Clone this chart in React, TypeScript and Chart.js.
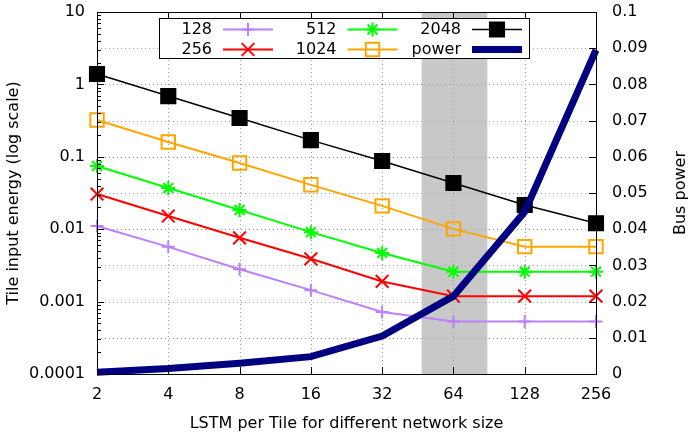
import React, { useEffect, useRef } from 'react';
import { Chart, registerables } from 'chart.js';

Chart.register(...registerables);

// LSTM per tile (x categories, powers of two)
const lstmPerTile = ['2', '4', '8', '16', '32', '64', '128', '256'];

// Tile input energy per network size (left, log axis)
const energy128 = [0.0111, 0.0057, 0.0028, 0.00144, 0.00072, 0.00053, 0.00053, 0.00053];
const energy256 = [0.0306, 0.0152, 0.0076, 0.0039, 0.0019, 0.00119, 0.00119, 0.00119];
const energy512 = [0.0747, 0.037, 0.0184, 0.0091, 0.0047, 0.00259, 0.00259, 0.00259];
const energy1024 = [0.322, 0.16, 0.082, 0.041, 0.021, 0.0101, 0.00574, 0.00574];
const energy2048 = [1.39, 0.69, 0.343, 0.17, 0.0875, 0.0434, 0.0216, 0.0121];

// Bus power (right axis)
const busPower = [0.0005, 0.0015, 0.003, 0.0048, 0.0105, 0.0215, 0.0448, 0.0895];

// Highlighted LSTM-per-tile range
const sweetSpot = [47, 89];

// Labelled decades of the energy axis
const energyDecades = [0.0001, 0.001, 0.01, 0.1, 1, 10];

const busPowerTitle = 'Bus power';

const FONT = 'DejaVu Sans';

type Marker = 'cross' | 'crossRot' | 'star' | 'rect' | 'none';

function drawMarker(
  ctx: CanvasRenderingContext2D,
  style: Marker,
  x: number,
  y: number,
  r: number,
  color: string,
  filled: boolean
) {
  ctx.save();
  ctx.strokeStyle = color;
  ctx.fillStyle = color;
  ctx.lineWidth = 2;
  ctx.beginPath();
  const d = r * Math.SQRT1_2;
  if (style === 'cross' || style === 'star') {
    ctx.moveTo(x - r, y);
    ctx.lineTo(x + r, y);
    ctx.moveTo(x, y - r);
    ctx.lineTo(x, y + r);
  }
  if (style === 'crossRot' || style === 'star') {
    ctx.moveTo(x - d, y - d);
    ctx.lineTo(x + d, y + d);
    ctx.moveTo(x + d, y - d);
    ctx.lineTo(x - d, y + d);
  }
  if (style === 'rect') {
    ctx.rect(x - d, y - d, 2 * d, 2 * d);
    if (filled) ctx.fill();
  }
  ctx.stroke();
  ctx.restore();
}

const decimalsOf = (v: number) => Math.max(0, -Math.round(Math.log10(v)));

const framePlugin = {
  id: 'gnuplotFrame',
  beforeDraw(chart: any) {
    const { ctx, chartArea: a, scales } = chart;
    const xs = scales.x;
    const y2 = scales.y2;
    ctx.save();
    // shaded range
    const p0 = xs.getPixelForValue(Math.log2(sweetSpot[0]) - 1);
    const p1 = xs.getPixelForValue(Math.log2(sweetSpot[1]) - 1);
    ctx.fillStyle = '#c8c8c8';
    ctx.fillRect(p0, a.top, p1 - p0, a.bottom - a.top);

    // dotted grid
    ctx.strokeStyle = '#a0a0a0';
    ctx.lineWidth = 1;
    ctx.setLineDash([1, 3]);
    ctx.beginPath();
    lstmPerTile.forEach((_, i) => {
      const px = Math.round(xs.getPixelForValue(i)) + 0.5;
      ctx.moveTo(px, a.top);
      ctx.lineTo(px, a.bottom);
    });
    y2.ticks.forEach((t: any) => {
      const py = Math.round(y2.getPixelForValue(t.value)) + 0.5;
      ctx.moveTo(a.left, py);
      ctx.lineTo(a.right, py);
    });
    ctx.stroke();
    ctx.restore();
  },
  afterDraw(chart: any) {
    const { ctx, chartArea: a, scales } = chart;
    const xs = scales.x;
    const y = scales.y;
    const y2 = scales.y2;
    ctx.save();
    ctx.strokeStyle = '#000';
    ctx.lineWidth = 1;
    ctx.setLineDash([]);
    ctx.beginPath();
    // x tics, mirrored on top
    lstmPerTile.forEach((_, i) => {
      const px = Math.round(xs.getPixelForValue(i)) + 0.5;
      ctx.moveTo(px, a.bottom);
      ctx.lineTo(px, a.bottom - 7);
      ctx.moveTo(px, a.top);
      ctx.lineTo(px, a.top + 7);
    });
    // log tics on the left, minor at 2..9
    energyDecades.forEach((dec, k) => {
      const py = Math.round(y.getPixelForValue(dec)) + 0.5;
      ctx.moveTo(a.left, py);
      ctx.lineTo(a.left + 7, py);
      if (k < energyDecades.length - 1) {
        for (let m = 2; m <= 9; m++) {
          const pm = Math.round(y.getPixelForValue(m * dec)) + 0.5;
          ctx.moveTo(a.left, pm);
          ctx.lineTo(a.left + 4, pm);
        }
      }
    });
    // y2 tics on the right
    y2.ticks.forEach((t: any) => {
      const py = Math.round(y2.getPixelForValue(t.value)) + 0.5;
      ctx.moveTo(a.right, py);
      ctx.lineTo(a.right - 7, py);
    });
    ctx.stroke();
    // border
    ctx.strokeRect(
      Math.round(a.left) + 0.5,
      Math.round(a.top) + 0.5,
      Math.round(a.right - a.left),
      Math.round(a.bottom - a.top)
    );

    // y2 label, reading bottom to top like the y label
    ctx.save();
    ctx.fillStyle = '#000';
    ctx.font = `16px "${FONT}"`;
    ctx.textAlign = 'center';
    ctx.textBaseline = 'middle';
    ctx.translate(y2.right - 12, (a.top + a.bottom) / 2);
    ctx.rotate(-Math.PI / 2);
    ctx.fillText(busPowerTitle, 0, 0);
    ctx.restore();

    // key box
    const bx = a.left + 62;
    const by = a.top + 6;
    const bw = 370;
    const bh = 40;
    ctx.fillStyle = '#fff';
    ctx.fillRect(bx, by, bw, bh);
    ctx.strokeRect(Math.round(bx) + 0.5, Math.round(by) + 0.5, bw, bh);

    ctx.font = `16px "${FONT}"`;
    ctx.textAlign = 'right';
    ctx.textBaseline = 'middle';
    chart.data.datasets.forEach((ds: any, i: number) => {
      const col = Math.floor(i / 2);
      const row = i % 2;
      const textRight = bx + 53 + col * 124.5;
      const cy = by + 11.5 + row * 20;
      ctx.fillStyle = '#000';
      ctx.fillText(ds.label, textRight, cy);
      const s0 = textRight + 11;
      const s1 = textRight + 61;
      ctx.beginPath();
      ctx.strokeStyle = ds.borderColor;
      ctx.lineWidth = ds.borderWidth;
      ctx.moveTo(s0, cy);
      ctx.lineTo(s1, cy);
      ctx.stroke();
      if (ds.pointStyle && ds.pointRadius > 0) {
        drawMarker(
          ctx,
          ds.pointStyle,
          (s0 + s1) / 2,
          cy,
          ds.pointRadius,
          ds.borderColor,
          ds.pointBackgroundColor !== 'rgba(0,0,0,0)'
        );
      }
    });
    ctx.restore();
  },
};

export default function App() {
  const canvasRef = useRef<HTMLCanvasElement | null>(null);

  useEffect(() => {
    document.body.style.margin = '0';
    const canvas = canvasRef.current;
    if (!canvas) return;

    const series = (
      label: string,
      data: number[],
      color: string,
      style: Marker,
      radius: number,
      filled: boolean,
      width: number,
      order: number
    ) => ({
      label,
      data,
      yAxisID: 'y',
      borderColor: color,
      borderWidth: width,
      pointStyle: style,
      pointRadius: radius,
      pointHoverRadius: radius,
      pointBorderWidth: 2,
      pointBorderColor: color,
      pointBackgroundColor: filled ? color : 'rgba(0,0,0,0)',
      tension: 0,
      clip: false as const,
      order,
    });

    const fitVertical = (scale: any) => {
      scale.width = 97;
      scale.paddingTop = 12;
      scale.paddingBottom = 0;
    };

    const chart = new Chart(canvas, {
      type: 'line',
      data: {
        labels: lstmPerTile,
        datasets: [
          series('128', energy128, '#bb80ff', 'cross', 6.5, false, 2, 5),
          series('256', energy256, '#ff0000', 'crossRot', 9, false, 2, 4),
          series('512', energy512, '#00ff00', 'star', 7, false, 2, 3),
          series('1024', energy1024, '#ffa500', 'rect', 9.5, false, 2, 2),
          series('2048', energy2048, '#000000', 'rect', 10, true, 1.5, 1),
          {
            label: 'power',
            data: busPower,
            yAxisID: 'y2',
            borderColor: '#000080',
            borderWidth: 7,
            pointStyle: 'none',
            pointRadius: 0,
            pointHoverRadius: 0,
            tension: 0,
            borderJoinStyle: 'miter',
            clip: false as const,
            order: 0,
          } as any,
        ],
      },
      options: {
        animation: false,
        responsive: false,
        events: [],
        layout: { padding: 0 },
        font: { family: FONT, size: 16 },
        color: '#000',
        plugins: {
          legend: { display: false },
          tooltip: { enabled: false },
        },
        scales: {
          x: {
            type: 'category',
            offset: false,
            grid: { display: false, drawTicks: false },
            border: { display: false },
            ticks: {
              color: '#000',
              font: { family: FONT, size: 16 },
              padding: 11,
              maxRotation: 0,
              autoSkip: false,
            },
            title: {
              display: true,
              text: 'LSTM per Tile for different network size',
              color: '#000',
              font: { family: FONT, size: 16 },
              padding: { top: 0, bottom: 1 },
            },
            afterFit(scale: any) {
              scale.height = 60;
            },
          },
          y: {
            type: 'logarithmic',
            position: 'left',
            min: 0.0001,
            max: 10,
            grid: { display: false, drawTicks: false },
            border: { display: false },
            ticks: {
              color: '#000',
              font: { family: FONT, size: 16 },
              padding: 12,
              autoSkip: false,
              callback(value: any) {
                const v = Number(value);
                const hit = energyDecades.find((d) => Math.abs(v / d - 1) < 1e-6);
                return hit === undefined ? '' : hit.toFixed(decimalsOf(hit));
              },
            },
            title: {
              display: true,
              text: 'Tile input energy (log scale)',
              color: '#000',
              font: { family: FONT, size: 16 },
              padding: { top: 4, bottom: 0 },
            },
            afterFit: fitVertical,
          },
          y2: {
            type: 'linear',
            position: 'right',
            min: 0,
            max: 0.1,
            grid: { display: false, drawTicks: false },
            border: { display: false },
            ticks: {
              stepSize: 0.01,
              color: '#000',
              font: { family: FONT, size: 16 },
              padding: 16,
              autoSkip: false,
              callback(value: any) {
                return String(Number(Number(value).toFixed(2)));
              },
            },
            title: { display: false },
            afterFit: fitVertical,
          },
        },
      } as any,
      plugins: [framePlugin],
    });

    return () => chart.destroy();
  }, []);

  return (
    <div style={{ position: 'absolute', left: 0, top: 0, width: 693, height: 434 }}>
      <canvas ref={canvasRef} width={693} height={434} style={{ width: 693, height: 434 }} />
    </div>
  );
}
